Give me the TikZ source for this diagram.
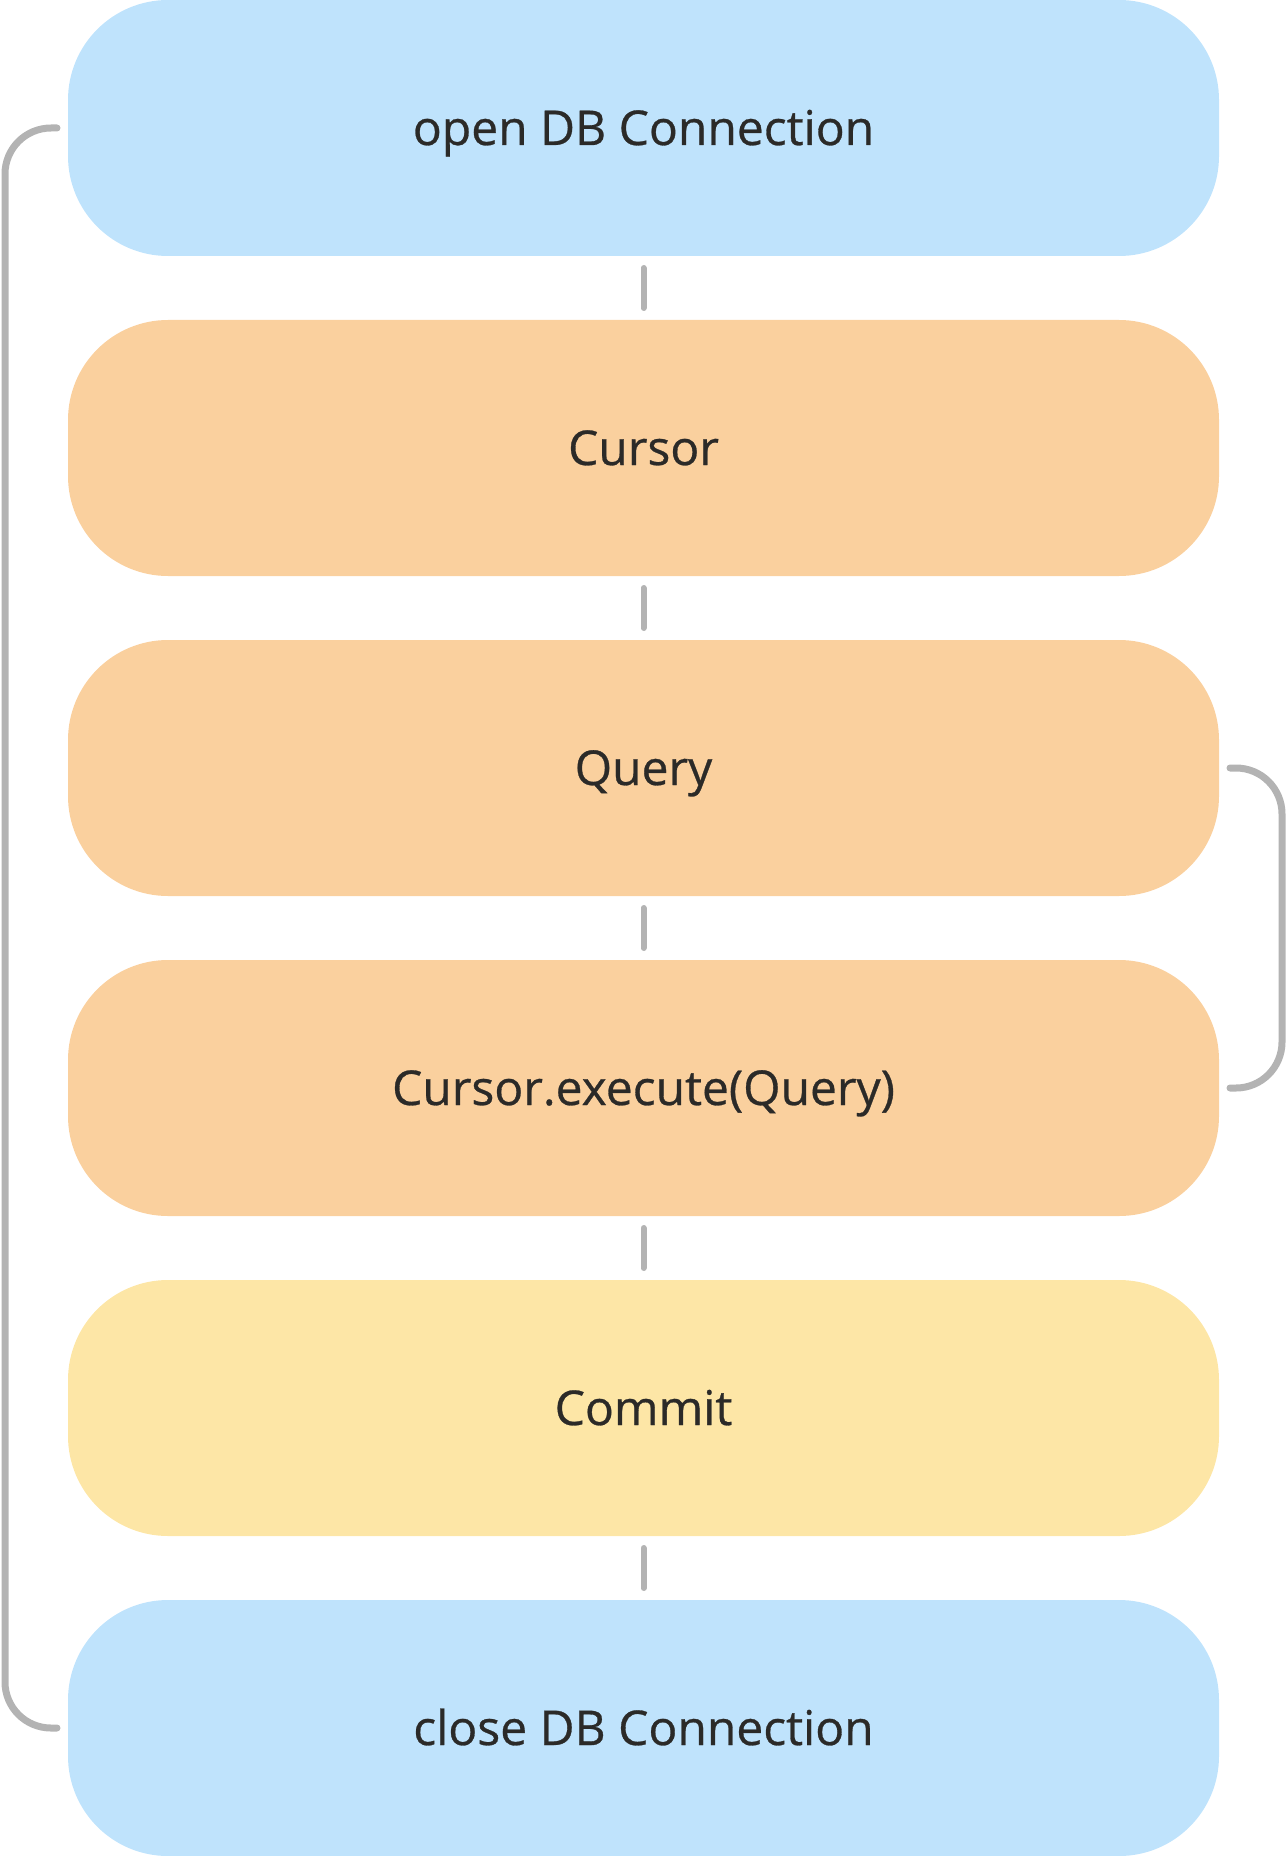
\documentclass[tikz,border=0pt]{standalone}
\usepackage{fontspec}
\setmainfont{Open Sans}
\newfontfamily\boxfont{Open Sans}[FakeBold=0.6]
\usetikzlibrary{positioning}
\definecolor{boxblue}{HTML}{BFE3FC}
\definecolor{boxorange}{HTML}{FAD09E}
\definecolor{boxyellow}{HTML}{FDE6A6}
\definecolor{linkgray}{HTML}{B3B3B3}
\definecolor{textdark}{HTML}{2B2A28}
\begin{document}
\begin{tikzpicture}
    \tikzset{
        step box/.style={rounded corners=50pt,minimum width=575.5pt,minimum height=128pt,inner sep=0pt,outer sep=0pt,
            text height=17pt,text depth=0pt,font=\boxfont\fontsize{24}{28}\selectfont,text=textdark},
        link/.style={draw=linkgray,line width=3pt,line cap=round},
        bracket/.style={draw=linkgray,line width=3.5pt,line cap=round,rounded corners=23pt}
    }
    \useasboundingbox (0,0) rectangle (644pt,-928pt);
    \node[step box, fill=boxblue] (open) at (321.75pt,-64pt) {open DB Connection};
    \node[step box, fill=boxorange, below=32pt of open] (cursor) {Cursor};
    \node[step box, fill=boxorange, below=32pt of cursor] (query) {Query};
    \node[step box, fill=boxorange, below=32pt of query] (execute) {Cursor.execute(Query)};
    \node[step box, fill=boxyellow, below=32pt of execute] (commit) {Commit};
    \node[step box, fill=boxblue, below=32pt of commit] (close) {close DB Connection};
    \foreach \a/\b in {open/cursor,cursor/query,query/execute,execute/commit,commit/close}
        \draw[link] ([yshift=-6pt]\a.south) -- ([yshift=6pt]\b.north);
    \draw[bracket] ([xshift=-5.5pt]open.west) -- ++(-26pt,0) |- ([xshift=-5.5pt]close.west);
    \draw[bracket] ([xshift=5.5pt]query.east) -- ++(26pt,0) |- ([xshift=5.5pt]execute.east);
\end{tikzpicture}
\end{document}
